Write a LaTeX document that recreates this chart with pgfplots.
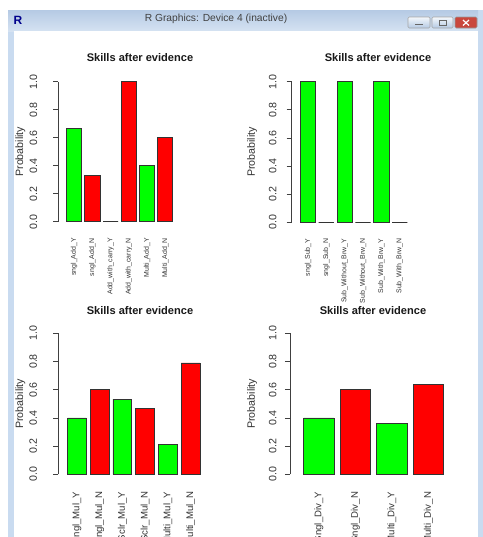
\documentclass[border=0pt]{standalone}
\usepackage{fontspec}
\setmainfont{Liberation Sans}
\usepackage{pgfplots}
\pgfplotsset{compat=1.18}
\definecolor{Rgreen}{HTML}{00FF00}
\definecolor{Rred}{HTML}{FF0000}
\definecolor{frameblue}{HTML}{C9DBF0}
\definecolor{bartop}{HTML}{B5CAE4}
\definecolor{barbot}{HTML}{D5E2F2}
\definecolor{closered}{HTML}{C9473D}
\definecolor{txt}{HTML}{333333}

\pgfplotsset{
  every axis title shift=0pt,
  rpanel/.style={
    scale only axis,
    anchor=south west,
    clip=false,
    ymin=0, ymax=1,
    ytick={0,0.2,0.4,0.6,0.8,1},
    yticklabels={0.0,0.2,0.4,0.6,0.8,1.0},
    axis y line*=left,
    axis x line*=bottom,
    x axis line style={draw=none},
    y axis line style={draw=black!75, line width=0.6pt},
    xtick style={draw=none},
    ytick style={draw=black!75, line width=0.6pt},
    tick align=outside,
    major tick length=3.75pt,
    yticklabel style={rotate=90, anchor=south, inner sep=0pt, font=\fontsize{8}{9}\selectfont, text=txt},
    xticklabel style={rotate=90, anchor=east, inner sep=0pt, text=txt},
    /pgf/number format/assume math mode=true,
    ylabel={Probability},
    ylabel style={font=\fontsize{8}{9}\selectfont, text=txt, anchor=center},
    title={Skills after evidence},
    title style={font=\bfseries\fontsize{8.3}{10}\selectfont, anchor=center, yshift=0pt, text=black!90},
  },
  rbarY/.style={ybar, bar shift=0pt, bar width=0.833, fill=Rgreen, draw=black!80, line width=0.6pt},
  rbarN/.style={ybar, bar shift=0pt, bar width=0.833, fill=Rred, draw=black!80, line width=0.6pt},
}

\begin{document}
\begin{tikzpicture}
\useasboundingbox (0,0) rectangle (362.25pt,-402.75pt);
% window chrome
\begin{scope}[x=0.75pt,y=-0.75pt]
  \fill[white] (0,0) rectangle (483,537);
  \fill[frameblue] (8,10) rectangle (483,537);
  \shade[top color=bartop, bottom color=barbot] (8,10) rectangle (478,31);
  \fill[white] (14,31) rectangle (478,537);
  \node[font=\bfseries\fontsize{9}{10}\selectfont, text=blue!55!black] at (18,20) {R};
  \node[font=\fontsize{7.7}{9}\selectfont, text=black!75] at (216,19) {R Graphics: Device 4 (inactive)};
  \shade[top color=white!85!bartop, bottom color=bartop, draw=black!35, rounded corners=1pt] (408,17) rectangle (430,28);
  \draw[black!60, line width=0.8pt] (415,24.5) -- (423,24.5);
  \shade[top color=white!85!bartop, bottom color=bartop, draw=black!35, rounded corners=1pt] (432,17) rectangle (453,28);
  \draw[black!60, line width=0.6pt] (439,20) rectangle (446,25.5);
  \fill[closered, draw=black!40, rounded corners=1pt] (455,17) rectangle (477,28);
  \draw[white, line width=0.9pt] (463,20) -- (469,25.5) (469,20) -- (463,25.5);
\end{scope}

% Panel 1
\begin{axis}[rpanel,
  at={(43.725pt,-166.35pt)},
  width=122.55pt, height=105.075pt,
  xmin=-0.874, xmax=8.104,
  xtick={0,1,2,3,4,5},
  xticklabels={sngl\_Add\_Y,sngl\_Add\_N,Add\_with\_carry\_Y,Add\_with\_carry\_N,Multi\_Add\_Y,Multi\_Add\_N},
  xticklabel style={font=\fontsize{5.2}{6}\selectfont},
  xticklabel shift=8.4pt,
  yticklabel shift=11.8pt,
  ylabel style={at={(axis description cs:-0.2326,0.5)}},
  title style={at={(axis description cs:0.5,1.169)}},
]
\addplot[rbarY] coordinates {(0,0.667) (2,0) (4,0.4)};
\addplot[rbarN] coordinates {(1,0.333) (3,1) (5,0.6)};
\end{axis}

% Panel 2
\begin{axis}[rpanel,
  at={(218.775pt,-166.725pt)},
  width=122.55pt, height=105.45pt,
  xmin=-0.889, xmax=8.025,
  xtick={0,1,2,3,4,5},
  xticklabels={sngl\_Sub\_Y,sngl\_Sub\_N,Sub\_Without\_Brw\_Y,Sub\_Without\_Brw\_N,Sub\_With\_Brw\_Y,Sub\_With\_Brw\_N},
  xticklabel style={font=\fontsize{5.2}{6}\selectfont},
  xticklabel shift=8.4pt,
  yticklabel shift=7.5pt,
  ylabel style={at={(axis description cs:-0.2417,0.5)}},
  title style={at={(axis description cs:0.528,1.169)}},
]
\addplot[rbarY] coordinates {(0,1) (2,1) (4,1)};
\addplot[rbarN] coordinates {(1,0) (3,0) (5,0)};
\end{axis}

% Panel 3
\begin{axis}[rpanel,
  at={(43.725pt,-355.725pt)},
  width=122.55pt, height=105.75pt,
  xmin=-0.824, xmax=6.374,
  xtick={0,1,2,3,4,5},
  xticklabels={Sngl\_Mul\_Y,Sngl\_Mul\_N,Sclr\_Mul\_Y,Sclr\_Mul\_N,Multi\_Mul\_Y,Multi\_Mul\_N},
  xticklabel style={font=\fontsize{7.2}{8.5}\selectfont},
  xticklabel shift=9.3pt,
  yticklabel shift=12pt,
  ylabel style={at={(axis description cs:-0.2326,0.5)}},
  title style={at={(axis description cs:0.5,1.160)}},
]
\addplot[rbarY] coordinates {(0,0.4) (2,0.533) (4,0.21)};
\addplot[rbarN] coordinates {(1,0.6) (3,0.467) (5,0.79)};
\end{axis}

% Panel 4
\begin{axis}[rpanel,
  at={(217.5pt,-355.725pt)},
  width=124.5pt, height=105.75pt,
  xmin=-0.789, xmax=3.759,
  xtick={0,1,2,3},
  xticklabels={Sngl\_Div\_Y,Sngl\_Div\_N,Multi\_Div\_Y,Multi\_Div\_N},
  xticklabel style={font=\fontsize{7.2}{8.5}\selectfont},
  xticklabel shift=9.3pt,
  yticklabel shift=6.25pt,
  ylabel style={at={(axis description cs:-0.2277,0.5)}},
  title style={at={(axis description cs:0.5,1.160)}},
]
\addplot[rbarY] coordinates {(0,0.4) (2,0.36)};
\addplot[rbarN] coordinates {(1,0.6) (3,0.64)};
\end{axis}
\end{tikzpicture}
\end{document}
